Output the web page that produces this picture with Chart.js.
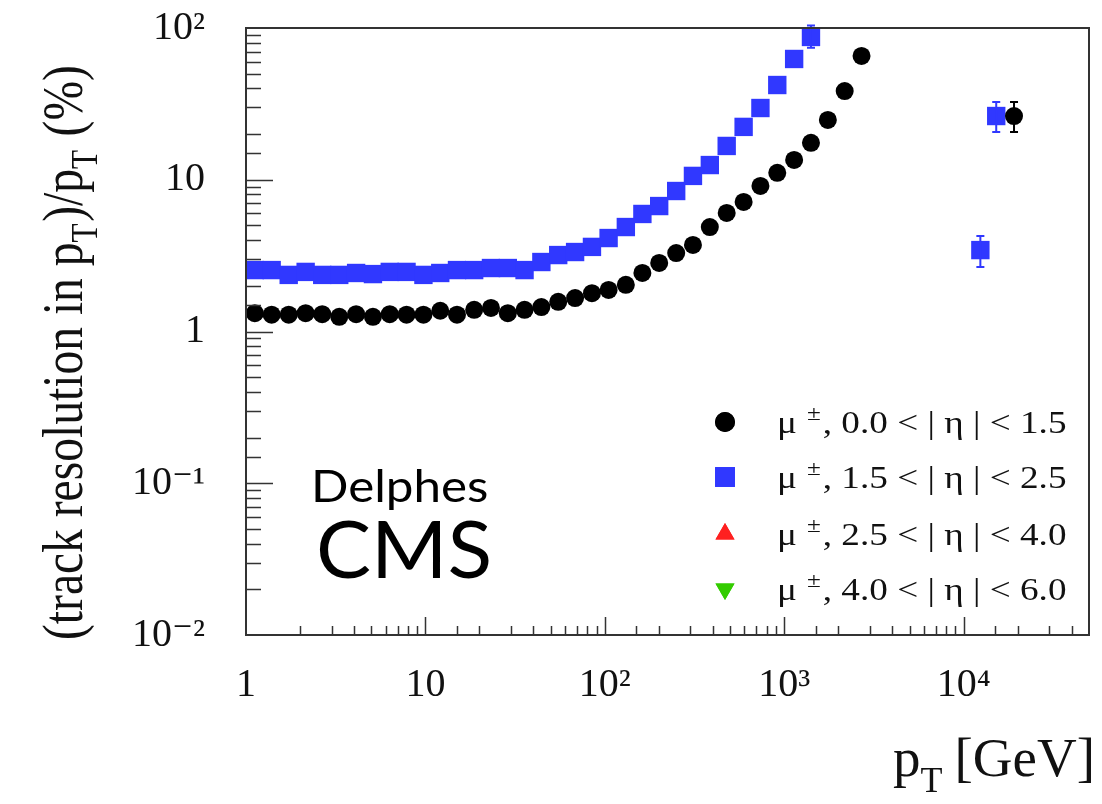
<!DOCTYPE html>
<html>
<head>
<meta charset="utf-8">
<script src="https://cdn.jsdelivr.net/npm/chart.js@4.4.0/dist/chart.umd.min.js"></script>
<style>
  html, body { margin: 0; padding: 0; background: #fff; }
  #wrap { width: 1102px; height: 804px; }
</style>
</head>
<body>
<div id="wrap"><canvas id="resChart"></canvas></div>
<script>
// pT bin centres (GeV)
const ptBins = [1.12, 1.39, 1.73, 2.15, 2.66, 3.31, 4.11, 5.10, 6.33, 7.85, 9.75, 12.1, 15.0, 18.7, 23.2, 28.8, 35.7, 44.3, 55.0, 68.3, 84.8, 105, 131, 162, 201, 250, 310, 385, 478, 594, 737, 915, 1136, 1410, 1751, 2173, 2698];

// muons, 0.0 < |eta| < 1.5 (black circles)
const resCentral = [1.32, 1.29, 1.29, 1.32, 1.30, 1.25, 1.30, 1.25, 1.30, 1.29, 1.29, 1.37, 1.29, 1.39, 1.43, 1.32, 1.39, 1.45, 1.57, 1.66, 1.79, 1.88, 2.03, 2.43, 2.83, 3.29, 3.72, 4.88, 6.04, 7.14, 9.10, 11.1, 13.5, 17.5, 24.8, 38.4, 65.4];
// muons, 1.5 < |eta| < 2.5 (blue squares), same bins, stops earlier
const resForward = [2.54, 2.54, 2.36, 2.47, 2.36, 2.36, 2.43, 2.39, 2.47, 2.47, 2.36, 2.43, 2.54, 2.54, 2.62, 2.62, 2.54, 2.87, 3.19, 3.34, 3.61, 4.13, 4.88, 5.95, 6.71, 8.43, 10.6, 12.5, 16.7, 22.3, 29.7, 42.1, 62.5, 87.3];
const forwardEndErr = [74, 104];

// isolated high-pT points with error bars
const centralExtraPt = [19100];
const centralExtraRes = [26.3];
const centralExtraLo = [20.6];
const centralExtraHi = [32.5];
const forwardExtraPt = [12400, 15200];
const forwardExtraRes = [3.44, 26.3];
const forwardExtraLo = [2.66, 20.6];
const forwardExtraHi = [4.26, 32.5];

const legendRanges = ['0.0 < | η | < 1.5', '1.5 < | η | < 2.5', '2.5 < | η | < 4.0', '4.0 < | η | < 6.0'];
const xTickValues = [1, 10, 100, 1000, 10000];
const xTickLabels = ['1', '10', '10²', '10³', '10⁴'];
const yTickValues = [0.01, 0.1, 1, 10, 100];
const yTickLabels = ['10⁻²', '10⁻¹', '1', '10', '10²'];

const BLUE = '#3038ff';
const SERIF = '"Liberation Serif", "DejaVu Serif", serif';
const SANS = 'Lato, "Open Sans", sans-serif';

const centralData = ptBins.map((x, i) => ({ x, y: resCentral[i] }))
  .concat(centralExtraPt.map((x, i) => ({ x, y: centralExtraRes[i], lo: centralExtraLo[i], hi: centralExtraHi[i] })));
const forwardData = resForward.map((y, i) => ({ x: ptBins[i], y }))
  .concat(forwardExtraPt.map((x, i) => ({ x, y: forwardExtraRes[i], lo: forwardExtraLo[i], hi: forwardExtraHi[i] })));
forwardData[resForward.length - 1].lo = forwardEndErr[0];
forwardData[resForward.length - 1].hi = forwardEndErr[1];

function labelFor(v, vals, labels) {
  for (let i = 0; i < vals.length; i++) {
    if (Math.abs(Math.log10(v) - Math.log10(vals[i])) < 1e-6) return labels[i];
  }
  return '';
}
function isDecade(v) {
  const l = Math.log10(v);
  return Math.abs(l - Math.round(l)) < 1e-6;
}
function noPad(s) {
  s.paddingLeft = 0; s.paddingRight = 0; s.paddingTop = 0; s.paddingBottom = 0;
}
// draw text squeezed/stretched along the writing direction
function fillScaled(ctx, text, x, y, sx) {
  ctx.save();
  ctx.translate(x, y);
  ctx.scale(sx, 1);
  ctx.fillText(text, 0, 0);
  ctx.restore();
  return ctx.measureText(text).width * sx;
}

const frameAndExtras = {
  id: 'frameAndExtras',
  afterDatasetsDraw(chart) {
    const { ctx, chartArea: a, scales: { x, y } } = chart;
    ctx.save();
    // error bars
    ctx.lineWidth = 2;
    chart.data.datasets.forEach(ds => {
      ds.data.forEach(p => {
        if (p.lo == null) return;
        const px = x.getPixelForValue(p.x);
        const pl = y.getPixelForValue(p.lo);
        const ph = y.getPixelForValue(p.hi);
        ctx.strokeStyle = ds.backgroundColor;
        ctx.beginPath();
        ctx.moveTo(px, pl); ctx.lineTo(px, ph);
        ctx.moveTo(px - 4, pl); ctx.lineTo(px + 4, pl);
        ctx.moveTo(px - 4, ph); ctx.lineTo(px + 4, ph);
        ctx.stroke();
      });
    });
    // frame
    ctx.strokeStyle = '#333';
    ctx.lineWidth = 2;
    ctx.strokeRect(a.left, a.top, a.width, a.height);
    // inward ticks
    ctx.lineWidth = 1.5;
    ctx.beginPath();
    x.ticks.forEach(t => {
      const px = Math.round(x.getPixelForValue(t.value)) + 0.5;
      if (px < a.left + 1 || px > a.right - 1) return;
      const len = isDecade(t.value) ? 18 : 9;
      ctx.moveTo(px, a.bottom); ctx.lineTo(px, a.bottom - len);
    });
    y.ticks.forEach(t => {
      const py = Math.round(y.getPixelForValue(t.value)) + 0.5;
      if (py < a.top + 1 || py > a.bottom - 1) return;
      const len = isDecade(t.value) ? 27 : 15;
      ctx.moveTo(a.left, py); ctx.lineTo(a.left + len, py);
    });
    ctx.stroke();
    ctx.restore();
  },
  afterDraw(chart) {
    const { ctx } = chart;
    ctx.save();
    ctx.fillStyle = '#111';
    ctx.textBaseline = 'alphabetic';

    // legend
    const markers = [
      { pointStyle: 'circle', radius: 10, rotation: 0, color: '#000' },
      { pointStyle: 'rect', radius: 14, rotation: 0, color: BLUE },
      { pointStyle: 'triangle', radius: 11, rotation: 0, color: '#ff2020' },
      { pointStyle: 'triangle', radius: 11, rotation: 180, color: '#33cc00' }
    ];
    const rowY = [422, 477, 534, 589];
    const sx = 1.2;
    legendRanges.forEach((txt, i) => {
      const m = markers[i];
      ctx.fillStyle = m.color;
      Chart.helpers.drawPoint(ctx, { pointStyle: m.pointStyle, radius: m.radius, rotation: m.rotation, borderWidth: 0 }, 725, rowY[i]);
      ctx.fill();
      ctx.fillStyle = '#111';
      const base = rowY[i] + 11;
      let tx = 777;
      ctx.font = '31px ' + SERIF;
      tx += fillScaled(ctx, 'μ', tx, base, sx) + 10;
      ctx.font = '21px ' + SERIF;
      tx += fillScaled(ctx, '±', tx, base - 13, sx) + 2;
      ctx.font = '31px ' + SERIF;
      fillScaled(ctx, ', ' + txt, tx, base, sx);
    });

    // Delphes / CMS tag
    ctx.fillStyle = '#000';
    ctx.font = '44px ' + SANS;
    fillScaled(ctx, 'Delphes', 311, 502, 1.12);
    ctx.font = '80px ' + SANS;
    fillScaled(ctx, 'CMS', 316, 578, 1.03);

    // x title: p_T [GeV]
    ctx.fillStyle = '#111';
    const xs = 893, xb = 776;
    ctx.font = '55px ' + SERIF;
    ctx.fillText('p', xs, xb);
    let w = ctx.measureText('p').width;
    ctx.font = '36px ' + SERIF;
    ctx.fillText('T', xs + w, xb + 16);
    w += ctx.measureText('T').width + 12;
    ctx.font = '55px ' + SERIF;
    ctx.fillText('[GeV]', xs + w, xb);

    // y title: (track resolution in p_T)/p_T (%)
    ctx.translate(82, 640);
    ctx.rotate(-Math.PI / 2);
    ctx.scale(0.82, 1);
    const parts = [
      ['(track resolution in p', 0], ['T', 1], [')/p', 0], ['T', 1], [' (%)', 0]
    ];
    let tx = 0;
    parts.forEach(([s, sub]) => {
      ctx.font = (sub ? '38px ' : '58px ') + SERIF;
      ctx.fillText(s, tx, sub ? 15 : 0);
      tx += ctx.measureText(s).width + (sub ? 2 : 0);
    });
    ctx.restore();
  }
};

new Chart(document.getElementById('resChart'), {
  type: 'scatter',
  data: {
    datasets: [
      {
        label: 'μ±, 0.0 < |η| < 1.5',
        data: centralData,
        pointStyle: 'circle',
        pointRadius: 9,
        backgroundColor: '#000',
        borderColor: '#000',
        borderWidth: 0,
        clip: false
      },
      {
        label: 'μ±, 1.5 < |η| < 2.5',
        data: forwardData,
        pointStyle: 'rect',
        pointRadius: 13,
        backgroundColor: BLUE,
        borderColor: BLUE,
        borderWidth: 0,
        clip: false
      },
      { label: 'μ±, 2.5 < |η| < 4.0', data: [], pointStyle: 'triangle', backgroundColor: '#ff2020' },
      { label: 'μ±, 4.0 < |η| < 6.0', data: [], pointStyle: 'triangle', rotation: 180, backgroundColor: '#33cc00' }
    ]
  },
  options: {
    responsive: true,
    maintainAspectRatio: false,
    animation: false,
    layout: { padding: { top: 28, right: 6, left: 0, bottom: 0 } },
    plugins: {
      legend: { display: false },
      tooltip: { enabled: false }
    },
    scales: {
      x: {
        type: 'logarithmic',
        min: 1,
        max: 50000,
        grid: { display: false, drawTicks: false },
        border: { display: false },
        afterFit: s => { s.height = 169; noPad(s); },
        ticks: {
          autoSkip: false,
          maxRotation: 0,
          padding: 26,
          color: '#111',
          font: { family: SERIF, size: 40 },
          callback: v => labelFor(v, xTickValues, xTickLabels)
        }
      },
      y: {
        type: 'logarithmic',
        min: 0.01,
        max: 100,
        grid: { display: false, drawTicks: false },
        border: { display: false },
        afterFit: s => { s.width = 246; noPad(s); },
        ticks: {
          autoSkip: false,
          padding: 41,
          color: '#111',
          font: { family: SERIF, size: 40 },
          callback: v => labelFor(v, yTickValues, yTickLabels)
        }
      }
    }
  },
  plugins: [frameAndExtras]
});
</script>
</body>
</html>
